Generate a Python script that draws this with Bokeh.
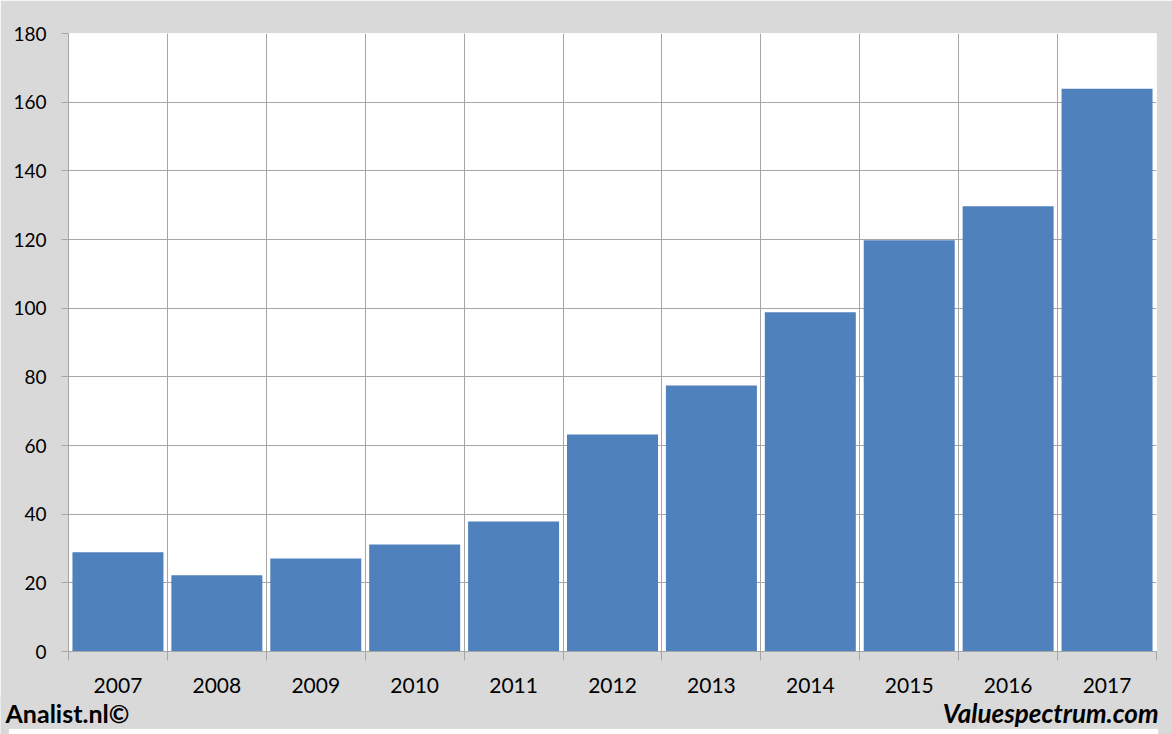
from bokeh.plotting import figure
from bokeh.models import FixedTicker, Range1d, BoxAnnotation, Label, ColumnDataSource
from bokeh.embed import file_html
from bokeh.resources import INLINE

years = ["2007", "2008", "2009", "2010", "2011", "2012", "2013", "2014", "2015", "2016", "2017"]
values = [28.9, 22.2, 27.1, 31.2, 37.9, 63.2, 77.5, 98.8, 119.8, 129.7, 163.9]
y_ticks = [0, 20, 40, 60, 80, 100, 120, 140, 160, 180]
footer_left = "Analist.nl\u00a9"
footer_right = "Valuespectrum.com"

W, H = 1172, 734
H1 = 703          # main chart height
FTOP = 696        # footer strip starts here (overlaps the panel's bottom edge)
H2 = H - FTOP
GRAY = "#d9d9d9"
EDGE = "#b8b8b8"
GRID = "#a6a6a6"
BAR = "#4f81bd"
FONT = "Lato"
PANEL_L, PANEL_R, PANEL_T, PANEL_B = 8, 1158, 6, 702

n = len(years)
centers = [i + 0.5 for i in range(n)]
bounds = [float(i) for i in range(n + 1)]

FL, FR, FT, FB = 68, 16, 33, H1 - 651

p = figure(width=W, height=H1, output_backend="svg", toolbar_location=None,
           x_range=Range1d(0, n), y_range=Range1d(0, 180),
           min_border_left=FL, min_border_right=FR, min_border_top=FT, min_border_bottom=FB)
p.styles = {"position": "absolute", "left": "0px", "top": "0px"}
p.border_fill_color = GRAY
p.background_fill_color = "white"
p.outline_line_color = None

p.add_layout(BoxAnnotation(left=PANEL_L, right=PANEL_R, top=H1 - PANEL_T, bottom=H1 - PANEL_B,
                           left_units="canvas", right_units="canvas",
                           top_units="canvas", bottom_units="canvas",
                           fill_color="white", fill_alpha=1.0,
                           line_color=EDGE, line_width=1, level="image"))

src = ColumnDataSource(dict(x=centers, top=values, year=years))
p.vbar(x="x", top="top", bottom=0, width=0.92, source=src,
       fill_color=BAR, line_color=None)

p.xaxis.ticker = FixedTicker(ticks=centers, minor_ticks=bounds)
p.xaxis.major_label_overrides = {c: y for c, y in zip(centers, years)}
p.xaxis.major_tick_out = 0
p.xaxis.major_tick_in = 0
p.xaxis.minor_tick_out = 9
p.xaxis.minor_tick_in = 0
p.xaxis.minor_tick_line_color = GRID
p.xaxis.axis_line_color = GRID
p.xaxis.major_label_standoff = 17
p.xaxis.major_label_text_font = FONT
p.xaxis.major_label_text_font_size = "21px"
p.xaxis.major_label_text_color = "black"

p.yaxis.ticker = FixedTicker(ticks=y_ticks)
p.yaxis.major_tick_out = 7
p.yaxis.major_tick_in = 0
p.yaxis.minor_tick_line_color = None
p.yaxis.major_tick_line_color = GRID
p.yaxis.axis_line_color = GRID
p.yaxis.major_label_standoff = 15
p.yaxis.major_label_text_font = FONT
p.yaxis.major_label_text_font_size = "19px"
p.yaxis.major_label_text_color = "black"

p.xgrid.grid_line_color = None
p.xgrid.minor_grid_line_color = GRID
p.ygrid.grid_line_color = GRID

# footer strip: a separate small figure whose frame is the whole strip
f = figure(width=W, height=H2, output_backend="svg", toolbar_location=None,
           x_range=Range1d(0, W), y_range=Range1d(0, H2),
           min_border=0, min_border_left=0, min_border_right=0,
           min_border_top=0, min_border_bottom=0)
f.styles = {"position": "absolute", "left": "0px", "top": f"{FTOP}px"}
f.axis.visible = False
f.grid.grid_line_color = None
f.background_fill_color = GRAY
f.border_fill_color = GRAY
f.outline_line_color = None
# continuation of the white panel's bottom edge
f.add_layout(BoxAnnotation(left=PANEL_L, right=PANEL_R, top=H2 + 3, bottom=H - PANEL_B,
                           left_units="canvas", right_units="canvas",
                           top_units="canvas", bottom_units="canvas",
                           fill_color="white", fill_alpha=1.0,
                           line_color=EDGE, line_width=1, level="image"))
ymid = H - 712
f.add_layout(Label(x=5, y=ymid, text=footer_left, text_font=FONT, text_font_style="bold",
                   text_font_size="25px", text_color="black",
                   text_align="left", text_baseline="middle"))
f.add_layout(Label(x=1158, y=ymid, text=footer_right, text_font=FONT,
                   text_font_style="bold italic", text_font_size="26px", text_color="black",
                   text_align="right", text_baseline="middle"))

open("out.html", "w").write(file_html([p, f], INLINE))
